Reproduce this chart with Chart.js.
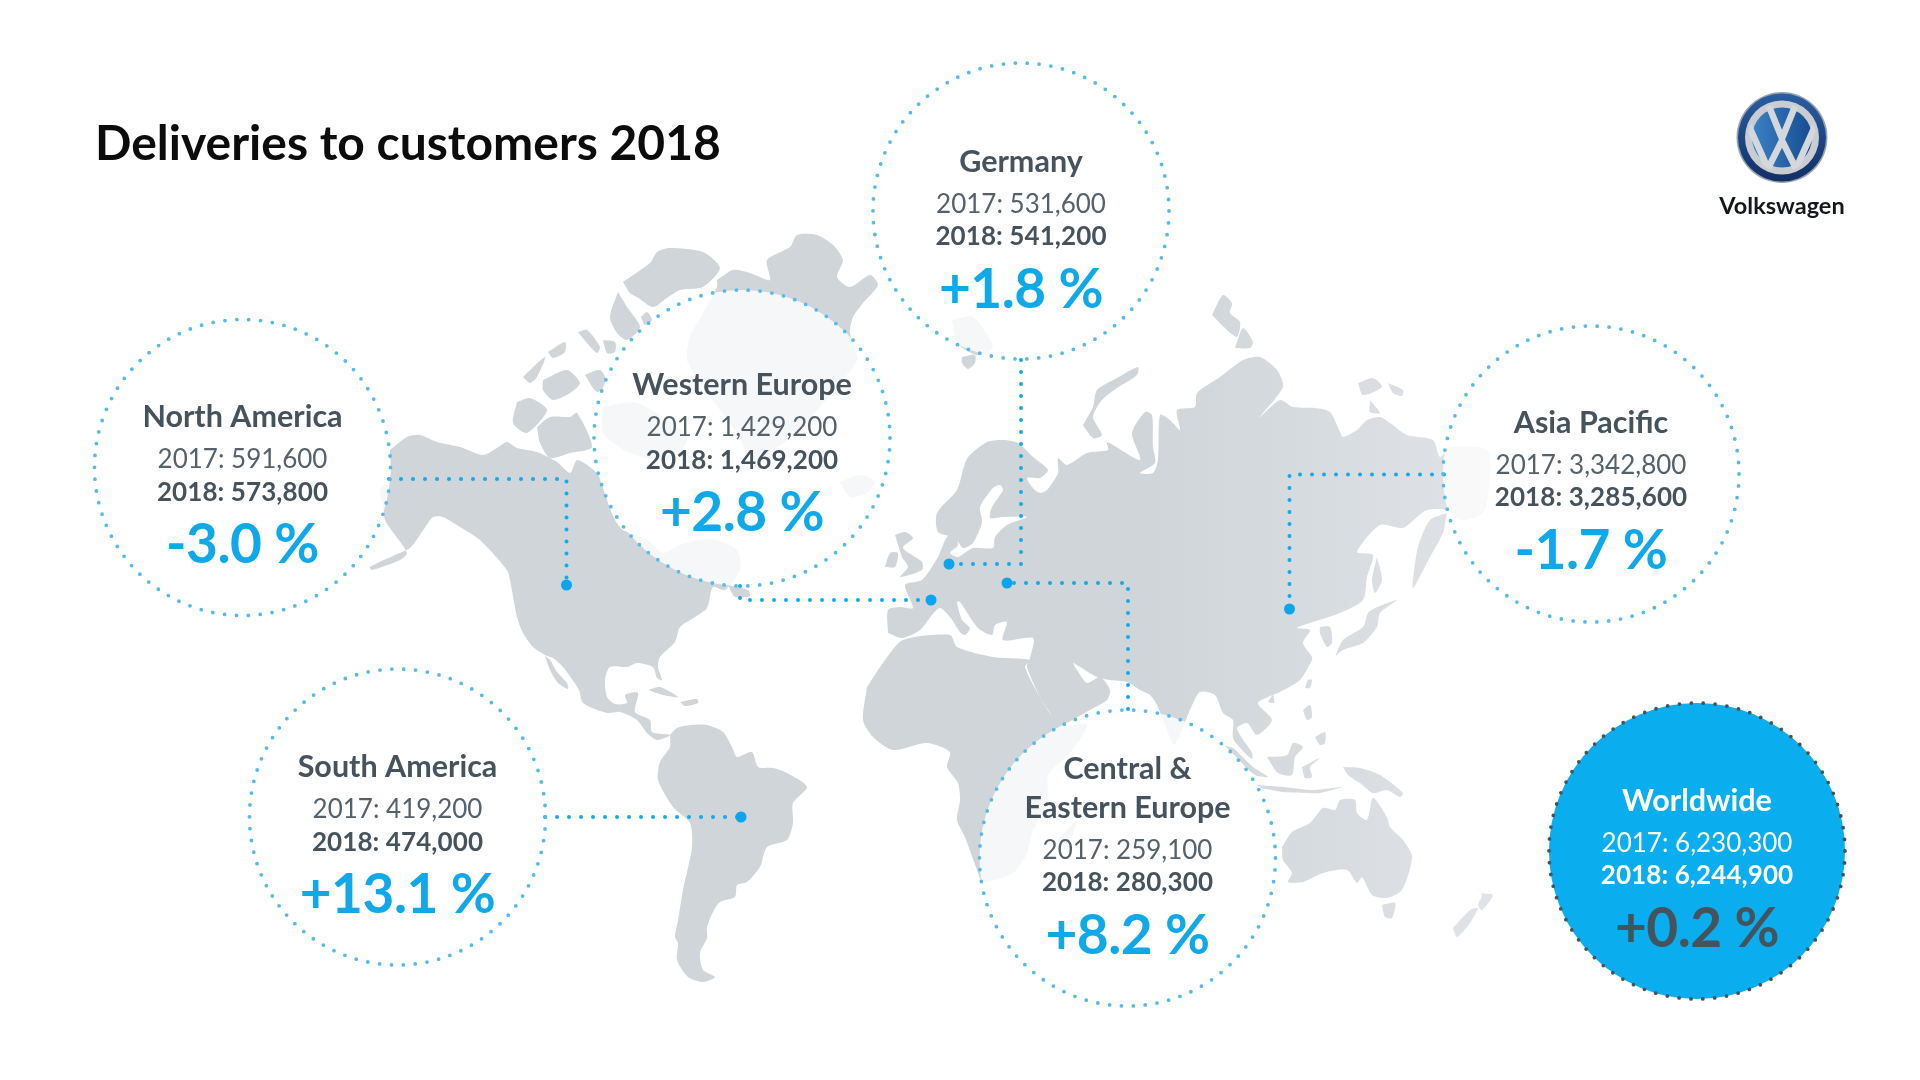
<!DOCTYPE html>
<html>
<head>
<meta charset="utf-8">
<title>Deliveries to customers 2018</title>
<script src="https://cdn.jsdelivr.net/npm/chart.js@4/dist/chart.umd.min.js"></script>
<style>
  html, body { margin: 0; padding: 0; background: #fff; }
  canvas { display: block; }
</style>
</head>
<body>
<canvas id="chart" width="1920" height="1080"></canvas>
<script>
// values
const regions = ['North America', 'Western Europe', 'Germany', 'Asia Pacific', 'South America', 'Central &\nEastern Europe', 'Worldwide'];
const deliveries2017 = [591600, 1429200, 531600, 3342800, 419200, 259100, 6230300];
const deliveries2018 = [573800, 1469200, 541200, 3285600, 474000, 280300, 6244900];
const changePct = [-3.0, 2.8, 1.8, -1.7, 13.1, 8.2, 0.2];

// layout, in the 1920x1080 units of the hidden axes
const bubbleX = [242.5, 742, 1021, 1591, 397.5, 1127.5, 1697];
const bubbleY = [467.5, 438, 211, 474, 817, 858, 851];
const textY = [468, 436, 212.5, 473.5, 818, 858.5, 851.5];
const bubbleR = 148;
const connectors = [
  [389, 479, 566.5, 479, 566.5, 585],
  [740, 586, 740, 600, 931, 600],
  [1021, 360, 1021, 564, 949, 564],
  [1128, 709, 1128, 583, 1007, 583],
  [1444, 474.5, 1289.5, 474.5, 1289.5, 609],
  [545, 817, 741, 817],
];

// land outlines
const land = [
  // north america
  [390,450, 407,437, 420,435, 437,442, 460,447, 483,455, 497,448, 507,442, 517,448, 537,452, 557,462, 570,473, 577,460, 590,467, 600,477, 607,500, 615,520, 623,530, 647,540, 663,553, 680,545, 700,540, 717,540, 737,550, 740,570, 725,590, 713,587, 707,608, 695,617, 680,627, 675,642, 660,657, 658,667, 662,680, 657,678, 653,667, 637,663, 627,667, 610,667, 605,680, 607,697, 615,704, 627,703, 625,695, 638,693, 635,712, 650,720, 652,732, 670,735, 657,740, 647,733, 637,720, 620,712, 607,713, 583,703, 579,690, 563,667, 553,658, 545,655, 533,647, 523,633, 517,617, 510,580, 507,570, 480,540, 460,527, 443,517, 433,517, 420,535, 410,548, 395,555, 370,567, 372,570, 400,560, 407,553, 395,535, 385,520, 383,505, 380,490, 390,480],
  // baja
  [545,656, 550,670, 558,683, 568,689, 567,683, 557,672, 550,660],
  // newfoundland, cuba, hispaniola
  [728,585, 748,590, 750,596, 735,597],
  [648,690, 660,687, 678,697, 663,695],
  [680,702, 697,699, 698,703, 685,706],
  // greenland and the arctic islands
  [717,280, 733,270, 750,273, 770,280, 767,260, 790,247, 797,235, 817,235, 833,245, 843,260, 837,277, 850,287, 870,275, 878,285, 863,303, 853,317, 850,333, 857,360, 843,380, 820,407, 787,440, 753,460, 737,433, 703,387, 687,360, 690,337, 703,313, 717,287],
  [623,282, 650,263, 657,252, 670,248, 703,252, 720,268, 703,287, 680,290, 667,298, 653,307, 637,297, 630,293],
  [618,292, 627,307, 640,327, 627,340, 617,333, 610,317],
  [641,317, 647,312, 652,320, 645,325],
  [578,332, 587,330, 600,347, 597,353, 587,343],
  [603,340, 615,342, 615,352, 607,353],
  [523,377, 545,357, 537,377, 530,383],
  [548,352, 565,342, 565,352, 553,358],
  [543,380, 567,370, 580,383, 570,393, 553,400, 543,390],
  [585,375, 600,370, 607,383, 597,392],
  [603,407, 637,403, 687,437, 670,460, 630,453, 603,433],
  [517,402, 530,398, 547,410, 527,433, 513,423],
  [537,427, 550,417, 570,417, 577,413, 592,447, 570,453, 550,458, 540,443],
  [840,482, 860,475, 875,482, 867,493, 850,497],
  // south america
  [670,735, 677,728, 690,725, 707,725, 723,732, 732,747, 737,757, 752,752, 758,767, 773,768, 787,773, 807,787, 793,803, 793,823, 787,840, 767,847, 760,867, 747,882, 737,885, 735,897, 720,902, 713,912, 707,927, 707,938, 700,953, 703,970, 715,977, 703,982, 688,977, 677,960, 678,943, 675,937, 678,920, 683,890, 692,847, 690,823, 673,807, 658,780, 660,762, 670,747],
  // africa, madagascar
  [867,687, 885,660, 903,640, 950,635, 957,647, 993,657, 1030,660, 1025,667, 1040,697, 1060,725, 1087,725, 1070,753, 1048,775, 1048,800, 1033,830, 1027,853, 1013,873, 983,882, 977,870, 965,837, 957,820, 960,800, 958,783, 947,767, 950,752, 927,743, 893,750, 873,737, 863,720],
  [1058,840, 1077,820, 1067,847, 1060,847],
  // eurasia
  [888,633, 888,610, 900,607, 913,608, 905,585, 922,580, 938,557, 943,545, 947,537, 953,533, 958,545, 950,553, 958,557, 973,548, 993,548, 995,537, 1007,525, 1027,517, 1003,517, 990,518, 992,507, 1003,490, 1000,485, 993,488, 980,507, 982,522, 973,543, 963,548, 955,538, 938,532, 937,513, 957,490, 963,470, 968,457, 987,442, 1003,440, 1018,443, 1033,457, 1048,470, 1040,478, 1027,478, 1033,488, 1040,493, 1047,490, 1058,473, 1058,458, 1067,465, 1087,453, 1108,450, 1107,442, 1140,460, 1132,433, 1145,412, 1152,415, 1153,447, 1155,463, 1140,473, 1153,473, 1158,460, 1160,415, 1170,420, 1180,430, 1177,410, 1195,407, 1197,393, 1220,377, 1243,360, 1260,357, 1277,370, 1283,387, 1260,417, 1280,400, 1293,407, 1315,408, 1330,412, 1340,432, 1343,437, 1357,430, 1367,420, 1380,417, 1390,423, 1407,435, 1433,440, 1440,457, 1450,447, 1487,450, 1490,480, 1483,513, 1460,520, 1447,510, 1427,510, 1417,517, 1403,528, 1380,525, 1357,552, 1373,555, 1367,577, 1363,600, 1340,613, 1310,623, 1297,628, 1310,630, 1303,643, 1312,657, 1312,660, 1300,680, 1280,692, 1258,703, 1272,720, 1257,735, 1247,723, 1237,728, 1242,738, 1252,753, 1252,759, 1242,750, 1233,738, 1233,720, 1223,713, 1215,695, 1200,692, 1190,710, 1182,730, 1174,745, 1165,725, 1157,705, 1150,695, 1140,690, 1127,682, 1110,680, 1097,677, 1077,665, 1073,663, 1077,670, 1087,683, 1100,677, 1110,690, 1107,700, 1090,710, 1067,723, 1058,728, 1050,713, 1040,697, 1027,667, 1030,658, 1033,638, 1003,640, 1007,622, 995,625, 992,635, 978,628, 960,602, 957,602, 962,620, 970,628, 965,635, 960,632, 950,617, 940,608, 932,615, 920,630, 902,638],
  // britain, ireland, svalbard
  [895,535, 905,532, 913,538, 903,548, 922,562, 922,570, 900,577, 908,567, 902,557],
  [885,567, 890,553, 898,553, 895,567],
  [952,320, 973,317, 993,347, 977,355, 957,343],
  [962,357, 975,355, 975,363, 968,369, 962,363],
  // russian arctic
  [1083,425, 1093,407, 1097,390, 1117,378, 1138,367, 1137,375, 1117,388, 1102,400, 1093,417, 1102,435, 1093,438],
  [1212,315, 1223,295, 1232,303, 1230,313, 1240,322, 1237,337, 1225,328],
  [1235,348, 1243,328, 1253,342, 1250,348],
  [1358,383, 1373,378, 1382,387, 1363,395],
  [1388,383, 1403,390, 1402,396, 1393,393],
  [1370,400, 1380,413, 1370,412],
  // kamchatka, sakhalin, japan, korea
  [1447,513, 1443,533, 1430,557, 1413,588, 1418,547, 1430,520],
  [1377,557, 1382,580, 1375,593, 1372,580],
  [1335,657, 1343,640, 1363,627, 1368,613, 1375,608, 1397,600, 1380,613, 1377,627, 1363,643, 1343,650],
  [1320,627, 1330,627, 1332,643, 1327,647, 1320,633],
  // south east asia
  [1268,702, 1273,695, 1274,703],
  [1305,688, 1308,680, 1312,680, 1310,688],
  [1303,710, 1310,705, 1312,717, 1307,720],
  [1315,737, 1325,732, 1325,743, 1320,745],
  [1267,757, 1287,755, 1293,743, 1303,747, 1295,757, 1292,775, 1278,773],
  [1302,767, 1320,758, 1310,767, 1312,777, 1305,778],
  [1225,746, 1233,748, 1253,767, 1268,777, 1255,775, 1237,758],
  [1257,785, 1283,787, 1313,790, 1342,787, 1320,793, 1307,793, 1283,792, 1262,788],
  [1343,767, 1360,768, 1380,775, 1403,793, 1400,797, 1387,790, 1373,793, 1360,783, 1348,775],
  // australia, tasmania, new zealand
  [1282,847, 1292,832, 1310,823, 1323,808, 1335,810, 1340,800, 1355,800, 1357,813, 1367,820, 1373,798, 1387,817, 1390,827, 1403,840, 1412,857, 1402,890, 1387,898, 1372,895, 1362,877, 1357,883, 1347,870, 1323,873, 1303,882, 1288,882, 1292,873, 1283,860],
  [1382,905, 1395,903, 1392,918, 1385,917],
  [1473,882, 1482,893, 1493,895, 1482,910, 1478,905, 1482,895],
  [1453,928, 1470,910, 1478,908, 1470,923, 1457,937],
];

function formatCount(n) {
  return n.toLocaleString('en-US');
}
function formatChange(p) {
  return (p < 0 ? '-' : '+') + Math.abs(p).toFixed(1) + ' %';
}
function toPoints(flat) {
  const pts = [];
  for (let i = 0; i < flat.length; i += 2) pts.push({ x: flat[i], y: flat[i + 1] });
  pts.push({ x: flat[0], y: flat[1] });
  return pts;
}

const INK = '#46535d';
const BLUE = '#0fa9ea';
const WORLD = regions.length - 1;

const canvas = document.getElementById('chart');
const landFill = canvas.getContext('2d').createLinearGradient(0, 0, 1920, 0);
landFill.addColorStop(0, '#cfd5d9');
landFill.addColorStop(0.6, '#cfd5d9');
landFill.addColorStop(0.78, '#e0e3e7');

function drawText(ctx, text, x, y, font, color, spacing) {
  ctx.font = font;
  ctx.fillStyle = color;
  ctx.letterSpacing = (spacing || 0) + 'px';
  ctx.fillText(text, x, y);
  ctx.letterSpacing = '0px';
}

function drawLogo(ctx, cx, cy) {
  const disc = (r, fill) => { ctx.beginPath(); ctx.arc(cx, cy, r, 0, Math.PI * 2); ctx.fillStyle = fill; ctx.fill(); };
  const outer = ctx.createLinearGradient(cx, cy - 46, cx, cy + 46);
  outer.addColorStop(0, '#2a5ea3');
  outer.addColorStop(1, '#112f63');
  disc(45.5, '#9aa3ad');
  disc(44, outer);
  disc(37, '#c9cdd2');
  const inner = ctx.createLinearGradient(cx - 30, cy, cx + 30, cy);
  inner.addColorStop(0, '#3b82c4');
  inner.addColorStop(1, '#174c90');
  disc(30, inner);
  ctx.save();
  ctx.beginPath();
  ctx.arc(cx, cy, 34, 0, Math.PI * 2);
  ctx.clip();
  ctx.strokeStyle = '#d4d7db';
  ctx.lineWidth = 6.5;
  ctx.lineJoin = 'miter';
  ctx.beginPath();
  ctx.moveTo(cx - 15, cy - 36); ctx.lineTo(cx, cy + 1); ctx.lineTo(cx + 15, cy - 36);
  ctx.moveTo(cx - 35, cy - 16); ctx.lineTo(cx - 14, cy + 31); ctx.lineTo(cx, cy + 3); ctx.lineTo(cx + 14, cy + 31); ctx.lineTo(cx + 35, cy - 16);
  ctx.stroke();
  ctx.restore();
}

// dotted rings, the texts and the logo sit on top of the datasets
const labelsPlugin = {
  id: 'labels',
  afterDatasetsDraw(chart) {
    const { ctx, scales: { x, y } } = chart;
    ctx.save();
    regions.forEach((name, i) => {
      const cx = x.getPixelForValue(bubbleX[i]);
      const cy = y.getPixelForValue(bubbleY[i]);
      const ty = y.getPixelForValue(textY[i]);
      const world = i === WORLD;

      ctx.beginPath();
      ctx.arc(cx, cy, bubbleR, 0, Math.PI * 2);
      ctx.lineCap = 'round';
      ctx.lineWidth = 3.8;
      ctx.strokeStyle = world ? '#47525b' : '#55baec';
      ctx.setLineDash([0, Math.PI * 2 * bubbleR / 78]);
      ctx.stroke();
      ctx.setLineDash([]);

      ctx.textAlign = 'center';
      ctx.textBaseline = 'alphabetic';
      const lines = name.split('\n');
      lines.forEach((line, n) => {
        const offset = -41 - (lines.length - 1 - n) * 38.5;
        drawText(ctx, line, cx, ty + offset, '700 30.5px Lato', world ? '#fff' : INK, 0);
      });
      drawText(ctx, '2017: ' + formatCount(deliveries2017[i]), cx, ty, '400 26px Lato', world ? '#fff' : '#55626c', 0);
      drawText(ctx, '2018: ' + formatCount(deliveries2018[i]), cx, ty + 32.5, '700 26px Lato', world ? '#fff' : INK, 0.1);
      drawText(ctx, formatChange(changePct[i]), cx, ty + 95, '700 55px Lato', world ? INK : BLUE, -0.5);
    });

    ctx.textAlign = 'left';
    drawText(ctx, 'Deliveries to customers 2018', 95, 160, '700 48px Lato', '#0c0c0c', 0);
    drawLogo(ctx, 1782, 137.5);
    ctx.textAlign = 'center';
    drawText(ctx, 'Volkswagen', 1782, 214, '700 23.5px Lato', '#14181c', 0);
    ctx.restore();
  },
};

const landSets = land.map((shape) => ({
  type: 'scatter',
  data: toPoints(shape),
  showLine: true,
  fill: 'shape',
  tension: 0.25,
  backgroundColor: landFill,
  borderWidth: 0,
  pointRadius: 0,
  order: 30,
}));

const bubbleSet = {
  type: 'bubble',
  data: regions.map((_, i) => ({ x: bubbleX[i], y: bubbleY[i], r: bubbleR })),
  backgroundColor: regions.map((_, i) => (i === WORLD ? '#0aaeee' : 'rgba(255,255,255,0.8)')),
  borderWidth: 0,
  order: 20,
};

const connectorSets = connectors.map((c) => {
  const pts = toPoints(c).slice(0, -1);
  return {
    type: 'scatter',
    data: pts,
    showLine: true,
    fill: false,
    borderColor: '#14a8ec',
    borderWidth: 4,
    borderDash: [0, 12],
    borderCapStyle: 'round',
    backgroundColor: '#0aa5ec',
    pointBorderWidth: 0,
    pointRadius: pts.map((_, n) => (n === pts.length - 1 ? 5.5 : 0)),
    order: 10,
  };
});

new Chart(canvas, {
  data: { datasets: [...connectorSets, bubbleSet, ...landSets] },
  plugins: [labelsPlugin],
  options: {
    responsive: false,
    devicePixelRatio: 1,
    animation: false,
    events: [],
    layout: { padding: 0, autoPadding: false },
    plugins: { legend: { display: false }, tooltip: { enabled: false } },
    scales: {
      x: { type: 'linear', min: 0, max: 1920, display: false },
      y: { type: 'linear', min: 0, max: 1080, reverse: true, display: false },
    },
  },
});
</script>
</body>
</html>
